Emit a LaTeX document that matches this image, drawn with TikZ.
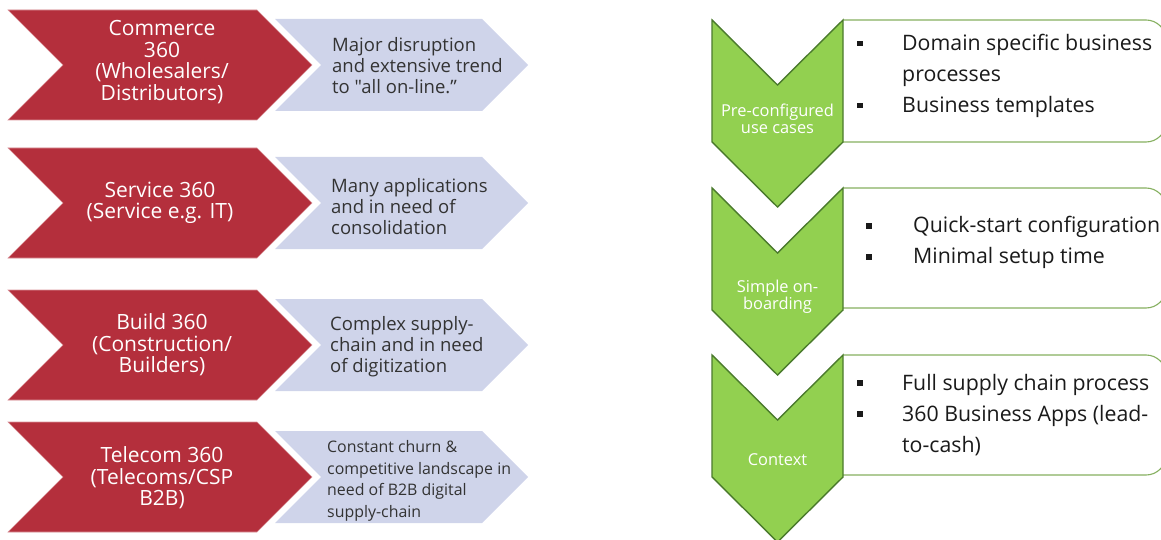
\documentclass[tikz,border=0pt]{standalone}
\usepackage{fontspec}
\setmainfont{Open Sans}[Ligatures=TeXOff]
\usepackage{array}
\definecolor{crimson}{HTML}{B42F3C}
\definecolor{crimsonedge}{HTML}{D9939A}
\definecolor{lavender}{HTML}{CFD4EA}
\definecolor{bluetext}{HTML}{333333}
\definecolor{leaf}{HTML}{92D050}
\definecolor{leafedge}{HTML}{4A7A2C}
\definecolor{boxedge}{HTML}{86B060}
\definecolor{ink}{HTML}{1A1A1A}
\newcommand\sqbul{\rule[4.5pt]{5.5pt}{5.5pt}}
\begin{document}
\begin{tikzpicture}[x=1pt,y=-1pt,
  redtext/.style={text=white, align=center, inner sep=0pt,
    font=\fontsize{21}{21.5}\selectfont},
  bluetext/.style={text=bluetext, align=left, anchor=west, inner sep=0pt,
    font=\fontsize{18.5}{21}\selectfont},
  smallblue/.style={bluetext, font=\fontsize{15.9}{21.5}\selectfont},
  greentext/.style={text=white, align=center, inner sep=0pt,
    font=\fontsize{16.4}{17}\selectfont},
  boxtext/.style={text=ink, anchor=base west, inner sep=0pt,
    font=\fontsize{21.3}{31}\selectfont},
  boxline/.style={draw=boxedge, line width=1.1pt, fill=white, rounded corners=20pt},
  greenchev/.style={fill=leaf, draw=leafedge, line width=1.4pt, line join=miter},
]
\useasboundingbox (0,0) rectangle (1161,540);
\begin{scope}
\clip (0,0) rectangle (1161,540);

% left column: red and lavender chevrons
\foreach \c in {65,203,345,477} {
  \filldraw[fill=crimson, draw=crimsonedge, line width=0.6pt]
    (8,\c-55) -- (257,\c-55) -- (312,\c) -- (257,\c+55) -- (8,\c+55) -- (63,\c) -- cycle;
  \fill[lavender]
    (275,\c-46) -- (482,\c-46) -- (528,\c) -- (482,\c+46) -- (275,\c+46) -- (321,\c) -- cycle;
}

\node[redtext] (r1) at (162,62) {Commerce\\360\\(Wholesalers/\\Distributors)};
\node[redtext] (r2) at (160,203) {Service 360\\(Service e.g. IT)};
\node[redtext] (r3) at (162,345) {Build 360\\(Construction/\\Builders)};
\node[redtext] (r4) at (162,478) {Telecom 360\\(Telecoms/CSP\\B2B)};

\node[bluetext] (b1) at (332,66) {Major disruption\\and extensive trend\\to "all on-line.”};
\node[bluetext] (b2) at (331,207) {Many applications\\and in need of\\consolidation};
\node[bluetext] (b3) at (330,347) {Complex supply-\\chain and in need\\of digitization};
\node[smallblue] (b4) at (327,481) {Constant churn \&\\competitive landscape in\\need of B2B digital\\supply-chain};

% right column: content boxes behind the green chevrons
\draw[boxline] (843,20) -- (1166,20) -- (1166,142) -- (843,142);
\draw[boxline] (843,188) -- (1166,188) -- (1166,308) -- (843,308);
\draw[boxline] (843,355) -- (1166,355) -- (1166,475) -- (843,475);

\foreach \t in {20,188,355} {
  \filldraw[greenchev]
    (712,\t) -- (777.5,\t+65) -- (843,\t) -- (843,\t+122)
    -- (777.5,\t+187) -- (712,\t+122) -- cycle;
}

\node[greentext] (g1) at (777.5,119) {Pre-configured\\use cases};
\node[greentext] (g2) at (777.5,297) {Simple on-\\boarding};
\node[greentext] (g3) at (777.5,460) {Context};

\node[boxtext] (t1) at (857,51) {\begin{tabular}[t]{@{}p{45pt}@{}l@{}}
  \sqbul & Domain specific business\\ & processes\\ \sqbul & Business templates\end{tabular}};
\node[boxtext] (t2) at (866,233) {\begin{tabular}[t]{@{}p{47pt}@{}l@{}}
  \sqbul & Quick-start configuration\\ \sqbul & Minimal setup time\end{tabular}};
\node[boxtext] (t3) at (857,390) {\begin{tabular}[t]{@{}p{45pt}@{}l@{}}
  \sqbul & Full supply chain process\\ \sqbul & 360 Business Apps (lead-\\ & to-cash)\end{tabular}};
\end{scope}
\end{tikzpicture}
\end{document}
